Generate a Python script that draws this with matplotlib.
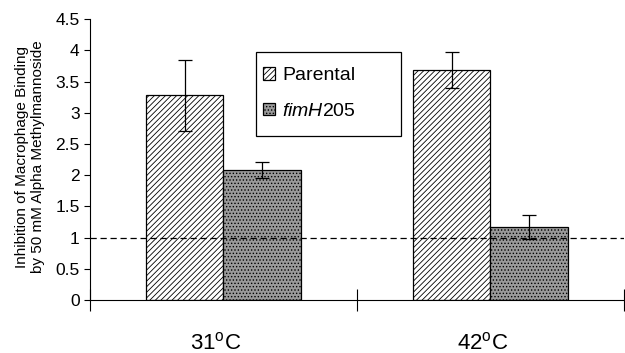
import numpy as np
import matplotlib.pyplot as plt
from matplotlib.patches import Rectangle

plt.rcParams['font.family'] = ['Liberation Sans', 'DejaVu Sans']
plt.rcParams['mathtext.fontset'] = 'custom'
plt.rcParams['mathtext.rm'] = 'Liberation Sans'
plt.rcParams['mathtext.it'] = 'Liberation Sans:italic'
plt.rcParams['hatch.linewidth'] = 0.6

# values
temps = ['31$^{\\rm o}$C', '42$^{\\rm o}$C']
parental = [3.28, 3.69]
parental_err = [0.57, 0.29]
fimh = [2.08, 1.17]
fimh_err = [0.13, 0.20]

fig = plt.figure(figsize=(6.25, 3.53), dpi=100)
ax = fig.add_axes([0.144, 0.150, 0.854, 0.796])

x = np.arange(len(temps))
w = 0.29
ax.bar(x - w / 2, parental, w, color='white', edgecolor='black', hatch='//////',
       linewidth=0.9, label='Parental')
ax.bar(x + w / 2, fimh, w, color='#9a9a9a', edgecolor='black', hatch='.....',
       linewidth=0.9, label='$\\it{fimH}$205')
ax.errorbar(x - w / 2, parental, yerr=parental_err, fmt='none', ecolor='black',
            elinewidth=0.9, capsize=5, capthick=0.9)
ax.errorbar(x + w / 2, fimh, yerr=fimh_err, fmt='none', ecolor='black',
            elinewidth=0.9, capsize=5, capthick=0.9)

ax.axhline(1, color='black', linestyle=(0, (5, 3)), linewidth=0.9)

ax.set_xlim(-0.5, 1.5)
ax.set_ylim(0, 4.5)
ax.set_yticks(np.arange(0, 4.51, 0.5))
ax.set_yticklabels(['0', '0.5', '1', '1.5', '2', '2.5', '3', '3.5', '4', '4.5'])
ax.tick_params(axis='y', labelsize=12.5, direction='out', length=4, width=0.8)

# category labels without ticks, ticks at category boundaries
ax.set_xticks([-0.5, 0.5, 1.5])
ax.set_xticklabels([])
ax.tick_params(axis='x', direction='inout', length=16, width=0.8)
for xi, t in zip(x, temps):
    ax.text(xi - 0.03, -0.52, t, ha='center', va='top', fontsize=16)

ax.spines['top'].set_visible(False)
ax.spines['right'].set_visible(False)
ax.spines['left'].set_linewidth(0.8)
ax.spines['bottom'].set_linewidth(0.8)

ax.set_ylabel('Inhibition of Macrophage Binding\nby 50 mM Alpha Methylmannoside',
              fontsize=11, linespacing=1.15)
ax.yaxis.set_label_coords(-0.085, 0.51)

# legend box is wider than its content in the reference
ax.add_patch(Rectangle((0.311, 0.584), 0.271, 0.299, transform=ax.transAxes,
                       facecolor='white', edgecolor='black', linewidth=0.9,
                       zorder=5))
leg = ax.legend(loc='center left', bbox_to_anchor=(0.324, 0.735), fontsize=14,
                frameon=False, handlelength=0.6, handleheight=0.6,
                handletextpad=0.4, labelspacing=0.95, borderpad=0,
                borderaxespad=0)
leg.set_zorder(6)

fig.savefig('out.png', dpi=100)
